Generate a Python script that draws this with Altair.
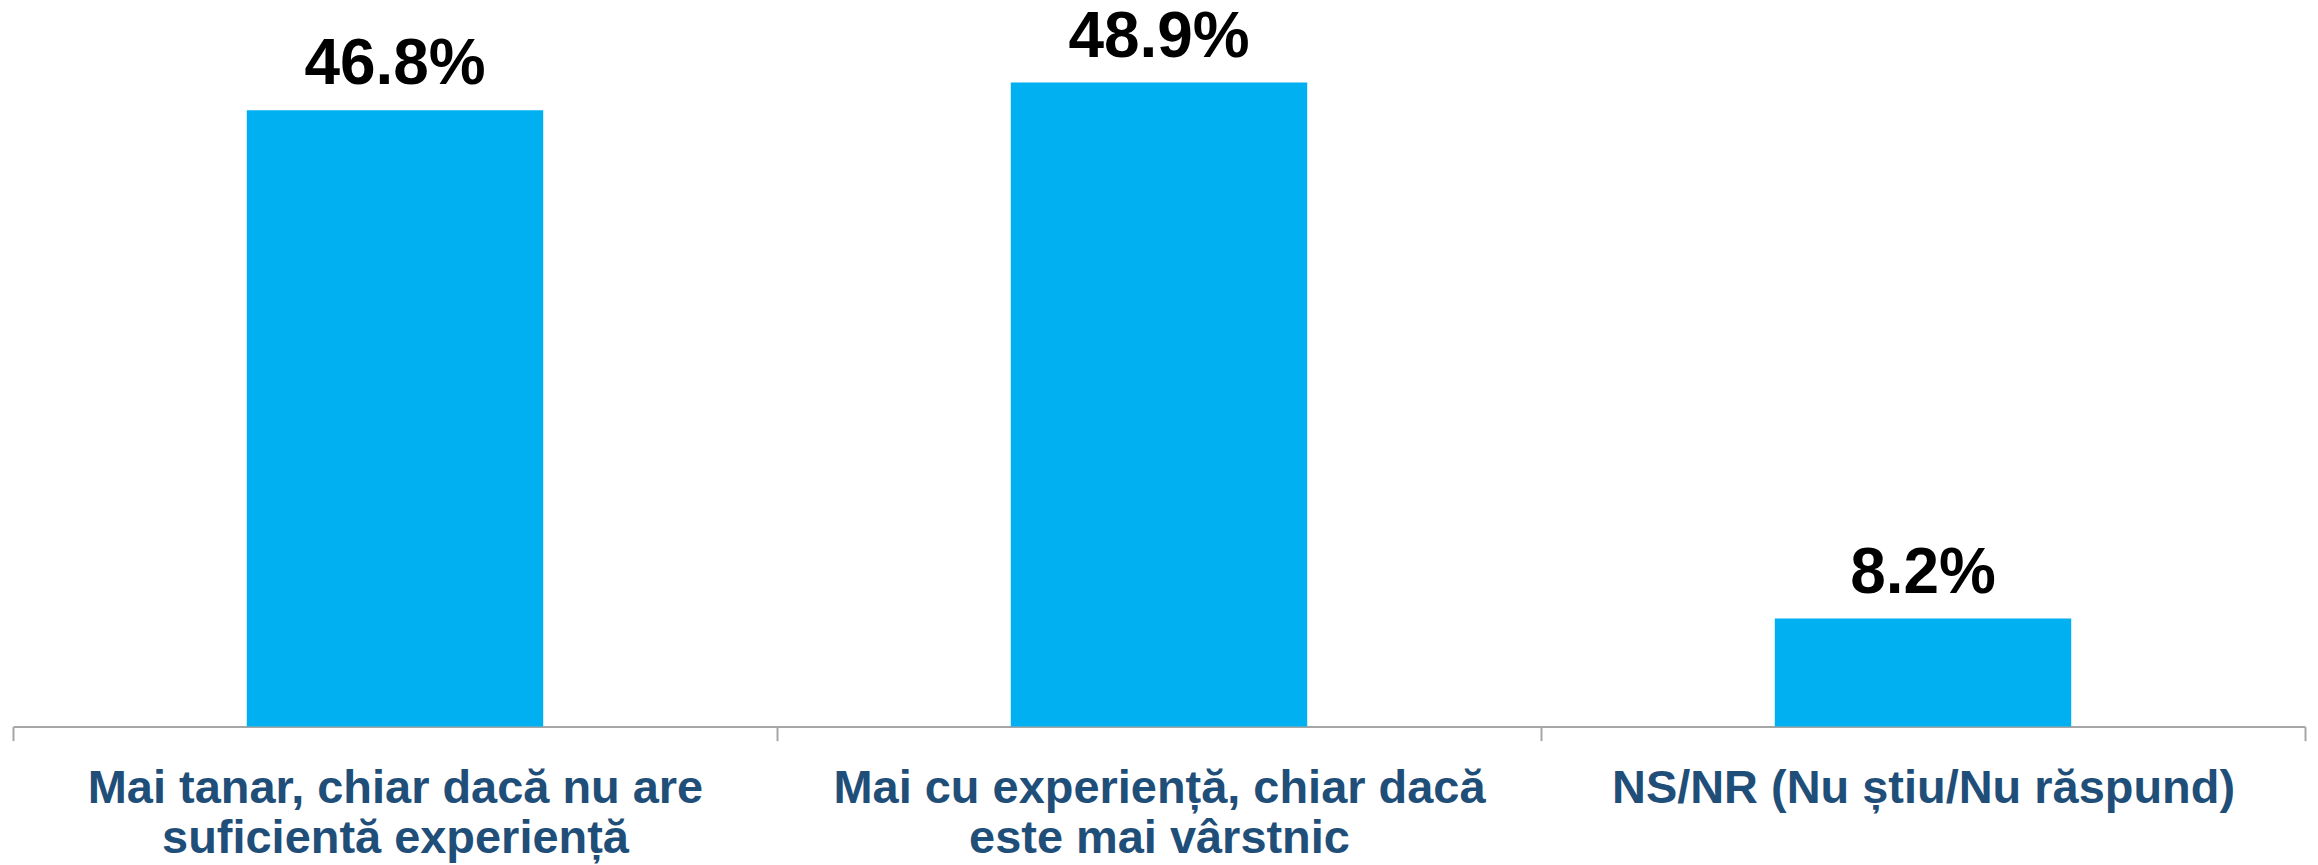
import altair as alt
import pandas as pd

categories = [
    "Mai tanar, chiar dacă nu are\nsuficientă experiență",
    "Mai cu experiență, chiar dacă\neste mai vârstnic",
    "NS/NR (Nu știu/Nu răspund)",
]
values = [46.8, 48.9, 8.2]

df = pd.DataFrame({"cat": categories, "value": values})

W = 2295
H = 699

x = alt.X(
    "cat:N",
    sort=categories,
    title=None,
    scale=alt.Scale(paddingInner=0, paddingOuter=0),
    axis=alt.Axis(
        labelAngle=0,
        labelExpr="split(datum.label, '\\n')",
        labelFont="Liberation Sans, Arial, sans-serif",
        labelFontWeight="bold",
        labelFontSize=47,
        labelLineHeight=50,
        labelColor="#1F4E79",
        labelPadding=25,
        labelBaseline="top",
        tickSize=14,
        tickBand="extent",
        tickColor="#A6A6A6",
        tickWidth=2,
        domainColor="#A6A6A6",
        domainWidth=2,
        labelLimit=1000,
    ),
)
y = alt.Y(
    "value:Q",
    scale=alt.Scale(domain=[0, 53.0], nice=False),
    axis=None,
)

bars = (
    alt.Chart(df)
    .mark_bar(color="#00B0F0", width=alt.RelativeBandSize(0.388))
    .encode(x=x, y=y)
)

text = (
    alt.Chart(df)
    .transform_calculate(lbl="format(datum.value, '.1f') + '%'")
    .mark_text(
        font="Liberation Sans, Arial, sans-serif",
        fontWeight="bold",
        fontSize=64,
        color="#000000",
        baseline="alphabetic",
        dy=-26,
    )
    .encode(x=alt.X("cat:N", sort=categories), y=y, text="lbl:N")
)

chart = (
    alt.layer(bars, text)
    .properties(
        width=W,
        height=H,
        padding={"left": 5, "top": 20, "right": 5, "bottom": 138},
        autosize=alt.AutoSizeParams(type="none"),
    )
    .configure(background="white")
    .configure_view(strokeWidth=0, stroke="transparent")
)

chart.save("out.html", embed_options={"renderer": "svg", "actions": False})
